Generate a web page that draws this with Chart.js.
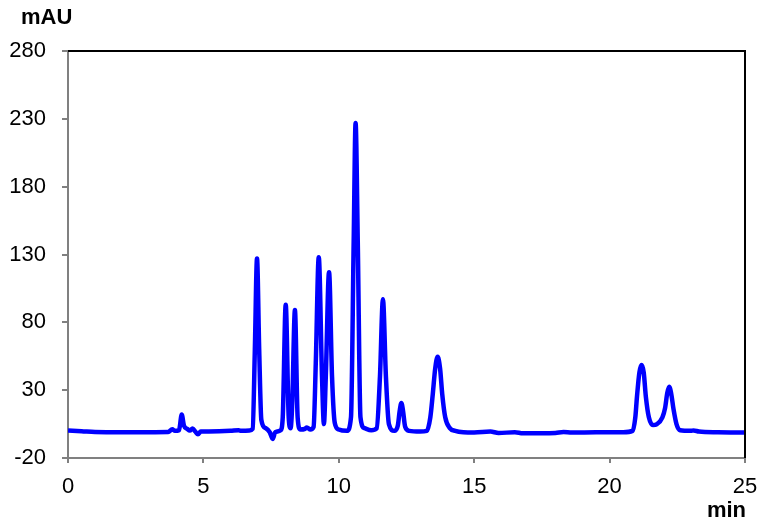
<!DOCTYPE html>
<html>
<head>
<meta charset="utf-8">
<script src="https://cdn.jsdelivr.net/npm/chart.js@4/dist/chart.umd.min.js"></script>
<style>
  html,body{margin:0;padding:0;background:#fff;}
  #wrap{width:770px;height:532px;}
</style>
</head>
<body>
<div id="wrap"><canvas id="c"></canvas></div>
<script>
// retention time (min) and signal (mAU)
const timeMin = [0,0.5,1.0,2.0,3.0,3.7,3.85,3.95,4.1,4.2,4.28,4.4,4.5,4.6,4.7,4.8,4.9,5.2,6.0,6.3,6.4,6.7,6.82,6.9,6.98,7.06,7.14,7.3,7.45,7.56,7.65,7.85,7.93,8.04,8.15,8.22,8.28,8.38,8.48,8.58,8.75,8.82,8.95,9.07,9.15,9.26,9.38,9.45,9.52,9.64,9.75,9.85,10.0,10.3,10.45,10.55,10.62,10.7,10.8,10.95,11.2,11.4,11.52,11.63,11.74,11.85,12.05,12.18,12.25,12.31,12.37,12.45,12.6,13.0,13.25,13.38,13.47,13.56,13.65,13.74,13.82,13.93,14.1,14.3,14.6,15.0,15.6,15.9,16.5,16.8,17.5,18.0,18.3,18.6,19.5,20.5,20.85,20.95,21.01,21.1,21.18,21.26,21.34,21.45,21.6,21.75,21.95,22.05,22.13,22.2,22.27,22.36,22.47,22.6,23.0,23.1,23.3,24.0,25.0];
const signal = [0.3,-0.2,-0.8,-1.0,-1.0,-0.9,1.2,0.0,0.5,12,4,1.5,0.2,1.8,-0.5,-2.5,-0.5,-0.5,0,0.5,0,0.3,1.5,60,127,60,8,2,-1,-6,-1,0.5,10,93,10,2,20,89,10,1,1.5,2.5,1,3,50,128,40,5,40,117,40,6,1,0,10,140,227,140,10,2,0.5,2,40,97,40,5,0,4,15,20.5,15,3,0,-0.5,0,10,27,46,54.6,46,27,10,2,0,-1,-1.2,-0.5,-1.6,-1,-1.8,-1.8,-1.5,-0.8,-1.2,-1.1,-1.0,0,10,25,43,48.5,43,25,10,4.3,5,10,17,28,32.5,28,16,5,0.5,0,0.3,-0.5,-1,-1.2];

const xTicks = [0,5,10,15,20,25];
const yTicks = [-20,30,80,130,180,230,280];

const points = timeMin.map((t,i)=>({x:t,y:signal[i]}));

const frame = {
  id:'frame',
  afterDraw(chart){
    const {ctx, chartArea:a} = chart;
    ctx.save();
    ctx.strokeStyle = '#000';
    ctx.lineWidth = 2;
    ctx.beginPath();
    ctx.moveTo(a.left, a.top);
    ctx.lineTo(a.right, a.top);
    ctx.lineTo(a.right, a.bottom);
    ctx.stroke();
    ctx.fillStyle = '#000';
    ctx.font = 'bold 22px "Liberation Sans", Arial, sans-serif';
    ctx.textBaseline = 'alphabetic';
    ctx.textAlign = 'left';
    ctx.fillText('mAU', 21, 24);
    ctx.textAlign = 'right';
    ctx.fillText('min', 746, 517);
    ctx.restore();
  }
};

new Chart(document.getElementById('c'), {
  type:'line',
  data:{datasets:[{
    data:points,
    borderColor:'#0000ff',
    borderWidth:4.5,
    pointRadius:0,
    fill:false,
    cubicInterpolationMode:'monotone'
  }]},
  options:{
    responsive:true,
    maintainAspectRatio:false,
    animation:false,
    layout:{padding:{top:51,right:25,bottom:0,left:0}},
    plugins:{legend:{display:false},tooltip:{enabled:false}},
    scales:{
      x:{
        type:'linear', min:0, max:25,
        afterBuildTicks(s){ s.ticks = xTicks.map(v=>({value:v})); },
        afterFit(s){ s.height = 74; },
        border:{display:true,color:'#808080',width:2},
        grid:{display:true,drawOnChartArea:false,drawTicks:true,tickLength:5,color:'#808080',lineWidth:2},
        ticks:{color:'#000',font:{family:'"Liberation Sans", Arial, sans-serif',size:22},padding:11,maxRotation:0}
      },
      y:{
        type:'linear', min:-20, max:280,
        afterBuildTicks(s){ s.ticks = yTicks.map(v=>({value:v})); },
        afterFit(s){ s.width = 68; },
        border:{display:true,color:'#808080',width:2},
        grid:{display:true,drawOnChartArea:false,drawTicks:true,tickLength:6,color:'#808080',lineWidth:2},
        ticks:{color:'#000',font:{family:'"Liberation Sans", Arial, sans-serif',size:22},padding:16}
      }
    }
  },
  plugins:[frame]
});
</script>
</body>
</html>
